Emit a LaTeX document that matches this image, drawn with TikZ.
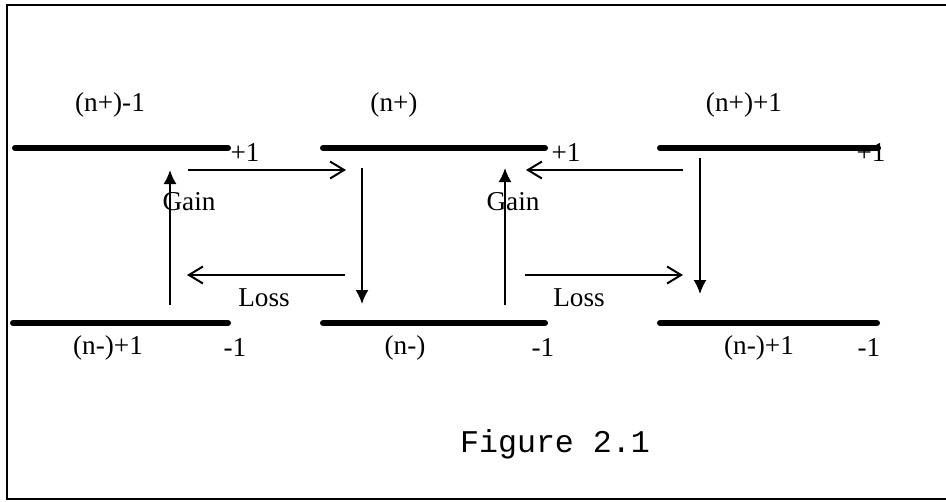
\documentclass[tikz,border=0pt]{standalone}
\usepackage{fontspec}
\setmainfont{Liberation Serif}
\newfontfamily\figfont{Liberation Mono}
\usetikzlibrary{arrows.meta}

\tikzset{
  level/.style={line width=1.2mm, line cap=round},
  trans/.style={line width=0.35mm, -{Latex[length=2.8mm,width=2.6mm]}},
  hop/.style={line width=0.4mm, -{Straight Barb[length=2.8mm,width=3.4mm]}},
  lbl/.style={inner sep=0pt, font=\fontsize{15.5}{18}\selectfont},
}

\begin{document}
\begin{tikzpicture}[x=0.2mm, y=-0.2mm]
  \useasboundingbox (0,0) rectangle (946,501);
  % frame, open on the right
  \draw[line width=0.45mm] (946,5) -- (7,5) -- (7,499) -- (946,499);

  % upper and lower levels
  \foreach \a/\b in {15/228, 323/545, 660/878} {
    \draw[level] (\a,148) -- (\b,148);
  }
  \foreach \a/\b in {13/228, 323/545, 660/877} {
    \draw[level] (\a,323) -- (\b,323);
  }

  % level labels
  \node[lbl] (up1) at (110,105) {(n+)-1};
  \node[lbl] (up2) at (394,105) {(n+)};
  \node[lbl] (up3) at (744,105) {(n+)+1};
  \node[lbl] (pl1) at (245,153) {+1};
  \node[lbl] (pl2) at (566,153) {+1};
  \node[lbl] (pl3) at (871,153) {+1};
  \node[lbl] (lo1) at (108,348) {(n-)+1};
  \node[lbl] (lo2) at (405,348) {(n-)};
  \node[lbl] (lo3) at (759,348) {(n-)+1};
  \node[lbl] (mi1) at (235,348) {-1};
  \node[lbl] (mi2) at (543,348) {-1};
  \node[lbl] (mi3) at (869,348) {-1};

  % arrow ends
  \coordinate (g1a) at (170,305);  \coordinate (g1b) at (170,170);
  \coordinate (g2a) at (505,305);  \coordinate (g2b) at (505,168);
  \coordinate (d1a) at (362,168);  \coordinate (d1b) at (362,304);
  \coordinate (d2a) at (700,158);  \coordinate (d2b) at (700,294);
  \coordinate (t1a) at (188,170);  \coordinate (t1b) at (346,170);
  \coordinate (t2a) at (683,170);  \coordinate (t2b) at (526,170);
  \coordinate (b1a) at (345,275);  \coordinate (b1b) at (187,275);
  \coordinate (b2a) at (525,275);  \coordinate (b2b) at (683,275);

  \draw[trans] (g1a) -- (g1b);
  \draw[trans] (g2a) -- (g2b);
  \draw[trans] (d1a) -- (d1b);
  \draw[trans] (d2a) -- (d2b);
  \draw[hop] (t1a) -- (t1b);
  \draw[hop] (t2a) -- (t2b);
  \draw[hop] (b1a) -- (b1b);
  \draw[hop] (b2a) -- (b2b);

  \node[lbl] (gain1) at (189,202) {Gain};
  \node[lbl] (gain2) at (513,202) {Gain};
  \node[lbl] (loss1) at (264,298) {Loss};
  \node[lbl] (loss2) at (579,298) {Loss};

  \node[inner sep=0pt, font=\figfont\fontsize{18}{20}\selectfont] (cap) at (555,444) {Figure 2.1};
\end{tikzpicture}
\end{document}
